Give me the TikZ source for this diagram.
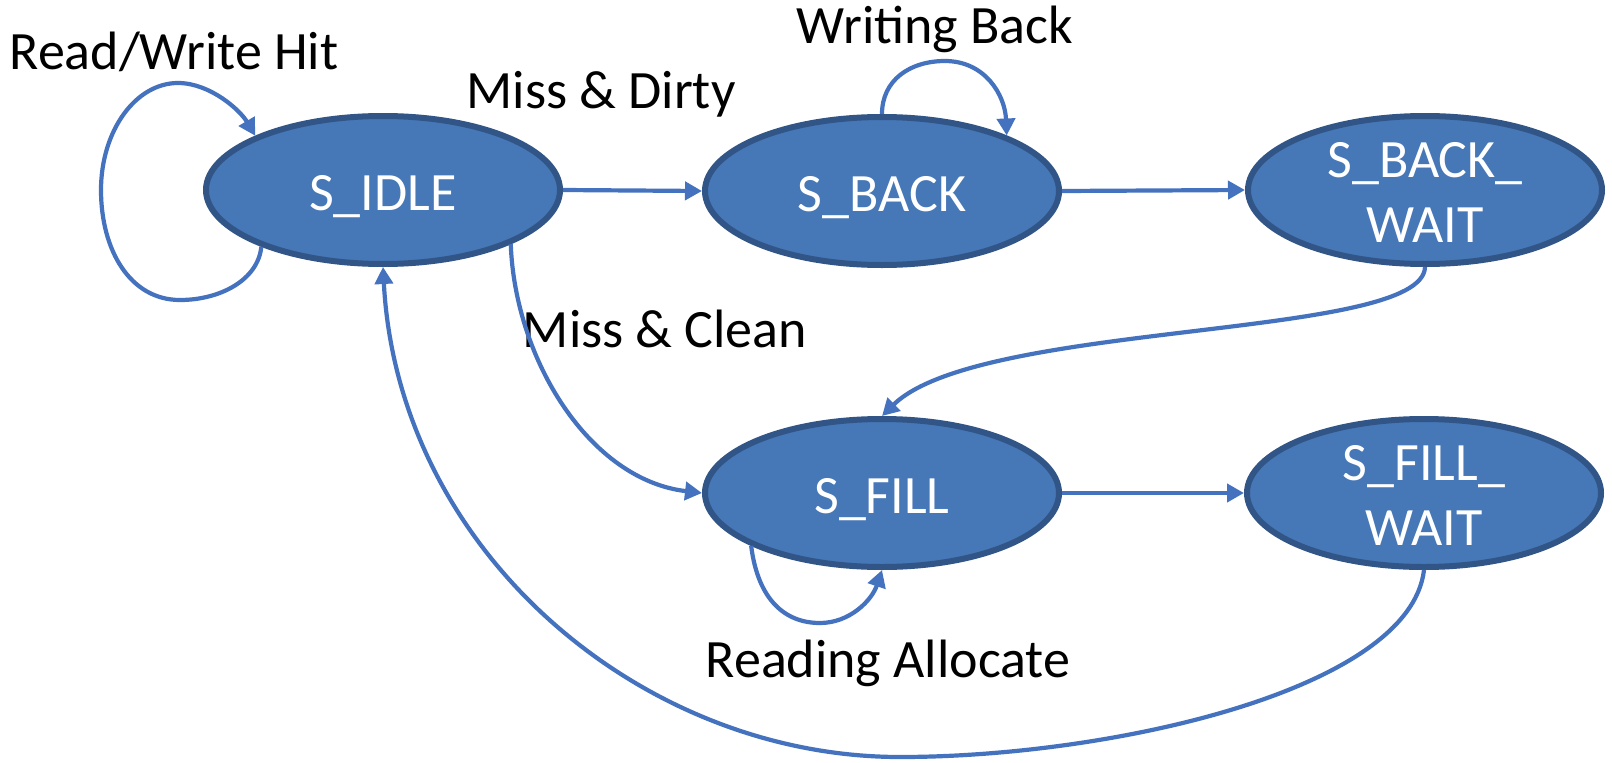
\documentclass[tikz,border=0pt]{standalone}
\usepackage{fontspec}
\setmainfont{Carlito}
\usetikzlibrary{shapes.geometric,arrows.meta}
\definecolor{stfill}{RGB}{70,119,182}
\definecolor{stborder}{RGB}{50,85,135}
\definecolor{connc}{RGB}{68,114,190}
\begin{document}
\begin{tikzpicture}[x=1pt,y=-1pt,
  state/.style={ellipse, draw=stborder, line width=6pt, fill=stfill,
    minimum width=354pt, minimum height=148pt, inner sep=0pt},
  stext/.style={text=white, font=\fontsize{54}{65}\selectfont, align=center, inner sep=0pt},
  lbl/.style={font=\fontsize{54}{65}\selectfont, anchor=base, inner sep=0pt},
  conn/.style={draw=connc, line width=4.2pt, -{Triangle[length=17pt,width=18pt]}},
]
\fill[white] (0,0) rectangle (1612,763);
\useasboundingbox (0,0) rectangle (1612,763);

% states
\node[state] (idle) at (383,190) {};
\node[state] (back) at (882,191) {};
\node[state] (bw)   at (1425,190) {};
\node[state] (fill) at (882,493) {};
\node[state] (fw)   at (1424,493) {};

\node[stext, anchor=base] (idle-t) at ([yshift=-20pt]idle.center) {S\_IDLE};
\node[stext, anchor=base] (back-t) at ([yshift=-20pt]back.center) {S\_BACK};
\node[stext] (bw-t) at ([yshift=-2pt]bw.center) {S\_BACK\_\\WAIT};
\node[stext, anchor=base] (fill-t) at ([yshift=-20pt]fill.center) {S\_FILL};
\node[stext] (fw-t) at ([yshift=-2pt]fw.center) {S\_FILL\_\\WAIT};

% labels
\node[lbl] (l-rw) at (174,69) {Read/Write Hit};
\node[lbl] (l-md) at (601,108) {Miss \& Dirty};
\node[lbl] (l-wb) at (935,43) {Writing Back};
\node[lbl] (l-mc) at (665,347) {Miss \& Clean};
\node[lbl] (l-ra) at (888,677) {Reading Allocate};

% connectors
\draw[conn] (idle.east) -- (back.west);
\draw[conn] (back.east) -- (bw.west);
\draw[conn] (fill.east) -- (fw.west);
\draw[conn] (idle.-23.6) .. controls (515,360) and (590,480) .. (fill.west);
\draw[conn] (bw.south) .. controls (1423,340) and (980,320) .. (fill.north);
\draw[conn] (fw.south) .. controls (1410,690) and (1110,757) .. (900,757)
  .. controls (640,757) and (398,550) .. (idle.south);
\draw[conn] (idle.-155) .. controls (258,280) and (220,300) .. (180,300)
  .. controls (130,300) and (101,250) .. (101,190)
  .. controls (101,131) and (135.5,83) .. (178,83)
  .. controls (210,83) and (240,110) .. (idle.157);
\draw[conn] (back.north) .. controls (882,80) and (910,61) .. (945,61)
  .. controls (985,61) and (1005,95) .. (back.24);
\draw[conn] (fill.-158) .. controls (758,600) and (785,623) .. (820,623)
  .. controls (850,623) and (872,600) .. (fill.south);
\end{tikzpicture}
\end{document}
